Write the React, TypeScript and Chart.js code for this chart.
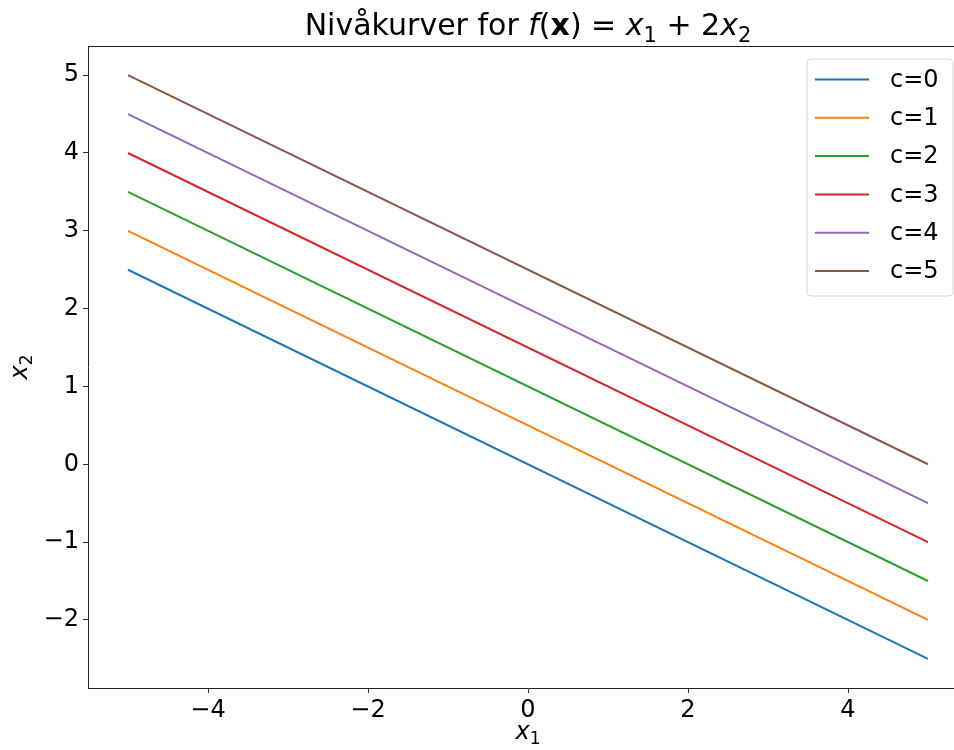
import React, { useEffect, useRef } from 'react';
import { Chart, registerables } from 'chart.js';

Chart.register(...registerables);

// ---- data ----
const xValues = [-5, 5];
const seriesLabels = ['c=0', 'c=1', 'c=2', 'c=3', 'c=4', 'c=5'];
const c0Values = [2.5, -2.5];
const c1Values = [3, -2];
const c2Values = [3.5, -1.5];
const c3Values = [4, -1];
const c4Values = [4.5, -0.5];
const c5Values = [5, 0];
const seriesValues = [c0Values, c1Values, c2Values, c3Values, c4Values, c5Values];
const seriesColors = ['#1f77b4', '#ff7f0e', '#2ca02c', '#d62728', '#9467bd', '#8c564b'];
const xTicks = [-4, -2, 0, 2, 4];
const yTicks = [-2, -1, 0, 1, 2, 3, 4, 5];
const xRange = [-5.5, 5.5];
const yRange = [-2.875, 5.375];

const FONT = "'DejaVu Sans', sans-serif";

const fmt = (v: number) => (v < 0 ? '\u2212' + Math.abs(v) : String(v));

type Seg = { t: string; style?: 'normal' | 'italic' | 'bold' | 'sub' };

function drawMath(ctx: CanvasRenderingContext2D, segs: Seg[], cx: number, baseline: number, size: number) {
  const fontFor = (s: Seg) => {
    if (s.style === 'italic') return `italic ${size}px ${FONT}`;
    if (s.style === 'bold') return `bold ${size}px ${FONT}`;
    if (s.style === 'sub') return `${Math.round(size * 0.7)}px ${FONT}`;
    return `${size}px ${FONT}`;
  };
  let total = 0;
  const widths = segs.map((s) => {
    ctx.font = fontFor(s);
    const w = ctx.measureText(s.t).width;
    total += w;
    return w;
  });
  let x = cx - total / 2;
  ctx.textAlign = 'left';
  ctx.textBaseline = 'alphabetic';
  segs.forEach((s, i) => {
    ctx.font = fontFor(s);
    const y = s.style === 'sub' ? baseline + size * 0.22 : baseline;
    ctx.fillText(s.t, x, y);
    x += widths[i];
  });
  return total;
}

const decorPlugin = {
  id: 'decor',
  afterDatasetsDraw(chart: any) {
    const { ctx, chartArea } = chart;
    const { left, right, top, bottom } = chartArea;
    ctx.save();
    // top and right spines
    ctx.strokeStyle = '#222';
    ctx.lineWidth = 1;
    ctx.beginPath();
    ctx.moveTo(left, top + 0.5);
    ctx.lineTo(right, top + 0.5);
    ctx.moveTo(right - 0.5, top);
    ctx.lineTo(right - 0.5, bottom);
    ctx.stroke();

    // legend
    const bx = right - 161;
    const by = top + 13;
    const bw = 146;
    const bh = 237;
    ctx.beginPath();
    const r = 4;
    ctx.moveTo(bx + r, by);
    ctx.arcTo(bx + bw, by, bx + bw, by + bh, r);
    ctx.arcTo(bx + bw, by + bh, bx, by + bh, r);
    ctx.arcTo(bx, by + bh, bx, by, r);
    ctx.arcTo(bx, by, bx + bw, by, r);
    ctx.closePath();
    ctx.fillStyle = 'rgba(255,255,255,0.8)';
    ctx.fill();
    ctx.strokeStyle = '#d6d6d6';
    ctx.lineWidth = 1;
    ctx.stroke();
    chart.data.datasets.forEach((ds: any, i: number) => {
      const y = by + 20.5 + i * 38.3;
      ctx.strokeStyle = ds.borderColor;
      ctx.lineWidth = 2;
      ctx.beginPath();
      ctx.moveTo(bx + 8, y);
      ctx.lineTo(bx + 62, y);
      ctx.stroke();
      ctx.fillStyle = '#000';
      ctx.font = `24px ${FONT}`;
      ctx.textAlign = 'left';
      ctx.textBaseline = 'middle';
      ctx.fillText(ds.label, bx + 83, y + 1);
    });
    ctx.restore();
  },
  afterDraw(chart: any) {
    const { ctx, chartArea } = chart;
    const cx = (chartArea.left + chartArea.right) / 2;
    ctx.save();
    ctx.fillStyle = '#000';
    // title
    drawMath(
      ctx,
      [
        { t: 'Nivåkurver for ' },
        { t: 'f', style: 'italic' },
        { t: '(' },
        { t: 'x', style: 'bold' },
        { t: ')' },
        { t: ' = ' },
        { t: 'x', style: 'italic' },
        { t: '1', style: 'sub' },
        { t: ' + 2' },
        { t: 'x', style: 'italic' },
        { t: '2', style: 'sub' },
      ],
      cx,
      35,
      30
    );
    // x label
    drawMath(ctx, [{ t: 'x', style: 'italic' }, { t: '1', style: 'sub' }], cx, 739, 24);
    // y label rotated
    ctx.save();
    ctx.translate(27, (chartArea.top + chartArea.bottom) / 2);
    ctx.rotate(-Math.PI / 2);
    drawMath(ctx, [{ t: 'x', style: 'italic' }, { t: '2', style: 'sub' }], 0, 0, 24);
    ctx.restore();
    ctx.restore();
  },
};

export default function App() {
  const ref = useRef<HTMLCanvasElement | null>(null);
  useEffect(() => {
    if (!ref.current) return;
    const datasets = seriesValues.map((vals, i) => ({
      label: seriesLabels[i],
      data: vals.map((y, j) => ({ x: xValues[j], y })),
      borderColor: seriesColors[i],
      backgroundColor: seriesColors[i],
      borderWidth: 2,
      pointRadius: 0,
      showLine: true,
      fill: false,
    }));
    const chart = new Chart(ref.current, {
      type: 'scatter',
      data: { datasets },
      options: {
        animation: false,
        responsive: false,
        devicePixelRatio: 1,
        layout: { padding: { top: 46, right: 8, left: 0, bottom: 0 } },
        plugins: { legend: { display: false }, title: { display: false }, tooltip: { enabled: false } },
        scales: {
          x: {
            type: 'linear',
            min: xRange[0],
            max: xRange[1],
            afterBuildTicks: (s: any) => {
              s.ticks = xTicks.map((v) => ({ value: v }));
            },
            afterFit: (s: any) => {
              s.height = 62;
            },
            ticks: {
              callback: (v: any) => fmt(Number(v)),
              font: { family: FONT, size: 24 },
              color: '#000',
              padding: 3,
              maxRotation: 0,
            },
            grid: { drawOnChartArea: false, drawTicks: true, tickLength: 5, color: '#333', lineWidth: 1 },
            border: { display: true, color: '#222', width: 1 },
          },
          y: {
            type: 'linear',
            min: yRange[0],
            max: yRange[1],
            afterBuildTicks: (s: any) => {
              s.ticks = yTicks.map((v) => ({ value: v }));
            },
            afterFit: (s: any) => {
              s.width = 88;
            },
            ticks: {
              callback: (v: any) => fmt(Number(v)),
              font: { family: FONT, size: 24 },
              color: '#000',
              padding: 4,
            },
            grid: { drawOnChartArea: false, drawTicks: true, tickLength: 5, color: '#333', lineWidth: 1 },
            border: { display: true, color: '#222', width: 1 },
          },
        },
      },
      plugins: [decorPlugin],
    } as any);
    return () => chart.destroy();
  }, []);
  return (
    <div style={{ position: 'fixed', left: 0, top: 0, width: 954, height: 750, overflow: 'hidden', background: '#fff' }}>
      <canvas ref={ref} width={976} height={750} style={{ display: 'block', width: 976, height: 750 }} />
    </div>
  );
}
